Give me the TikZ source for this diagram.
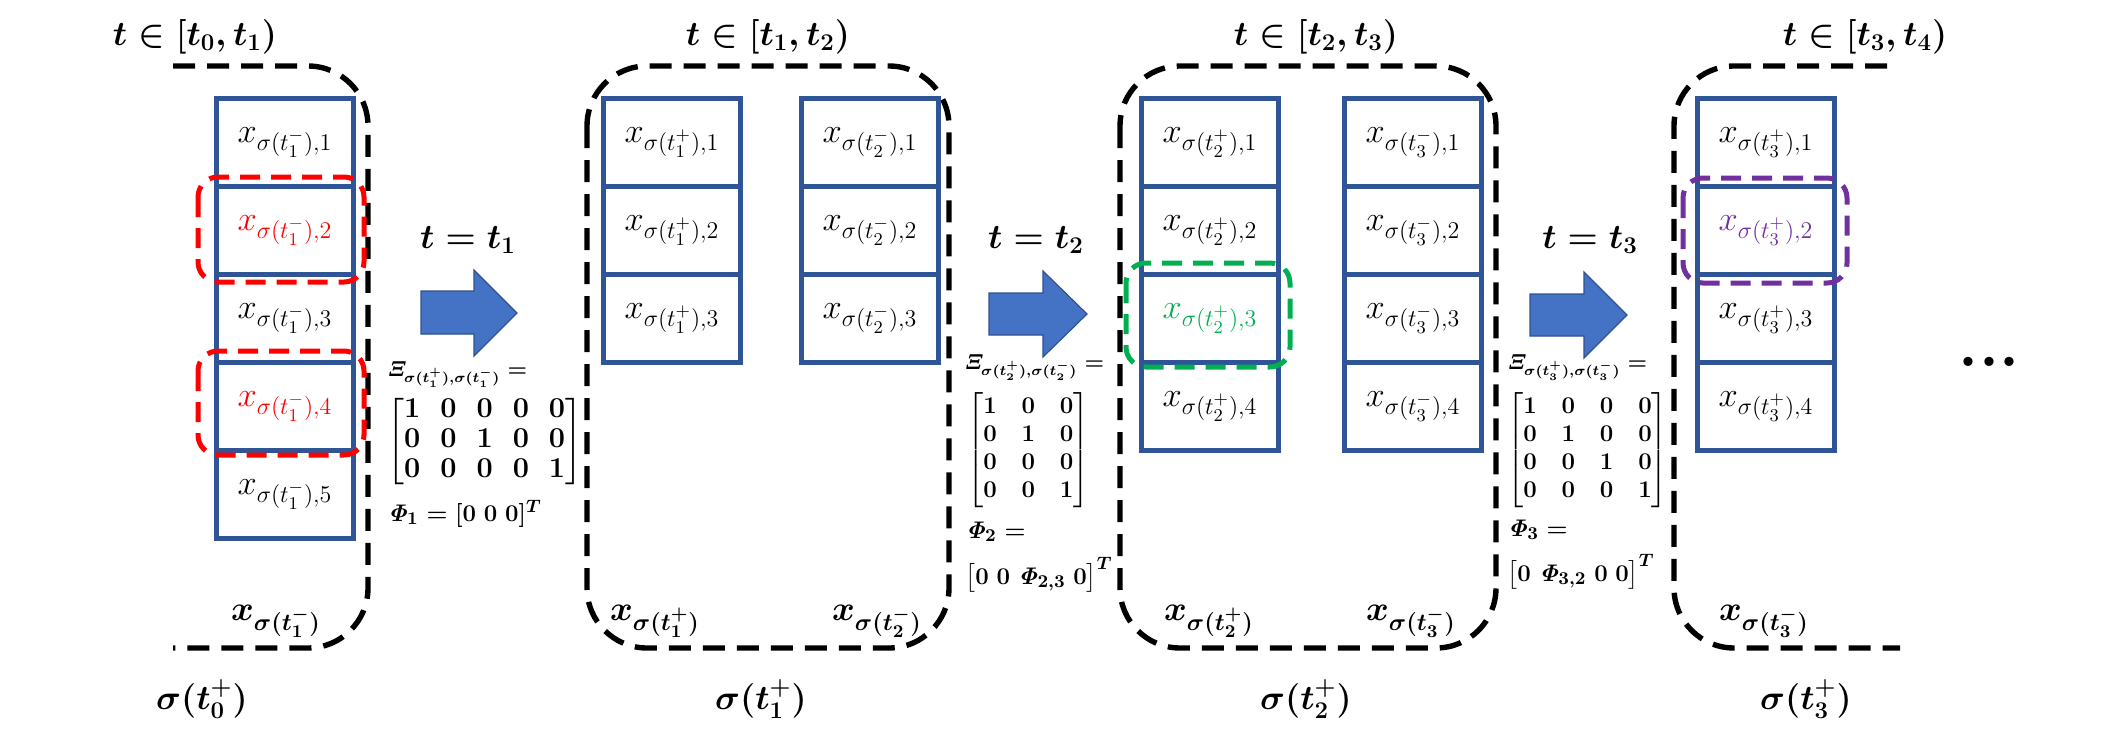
\documentclass[tikz,border=0pt]{standalone}
\usepackage{amsmath,bm}
\definecolor{boxblue}{HTML}{2F5597}
\definecolor{arrowblue}{HTML}{4472C4}
\definecolor{arrowedge}{HTML}{2F528F}
\definecolor{mygreen}{HTML}{00B050}
\definecolor{mypurple}{HTML}{7030A0}
\definecolor{myred}{HTML}{FF0000}
\tikzset{
  cell/.style={draw=boxblue, line width=2.5pt, minimum width=68.5pt, minimum height=44pt,
    inner sep=0pt, anchor=north west, font=\fontsize{18}{20}\selectfont},
  stage/.style={draw=black, line width=2.7pt, dash pattern=on 11pt off 6pt, rounded corners=30pt},
  hilite/.style={line width=2.5pt, dash pattern=on 10pt off 5.5pt, rounded corners=10pt},
  bigmath/.style={font=\fontsize{18}{20}\selectfont\boldmath, inner sep=0pt},
  blockarrow/.style={fill=arrowblue, draw=arrowedge, line width=0.6pt},
  xilabel/.style={font=\fontsize{10.5}{12}\selectfont\boldmath, inner sep=0pt, anchor=base west},
  philabel/.style={font=\fontsize{13}{15}\selectfont\boldmath, inner sep=0pt, anchor=base west},
  matA/.style={font=\fontsize{13.5}{15}\selectfont\boldmath\setlength{\arraycolsep}{5pt}, inner sep=0pt, anchor=north west},
  matB/.style={font=\fontsize{12.5}{14}\selectfont\boldmath\setlength{\arraycolsep}{6.2pt}, inner sep=0pt, anchor=north west},
}
\begin{document}
\begin{tikzpicture}[x=0.5pt,y=-0.5pt]
\useasboundingbox (0,0) rectangle (2122,734);

% ---------- stage boxes ----------
\draw[stage] (173,66) -- (368,66) -- (368,648) -- (173,648);
\draw[stage] (587,66) rectangle (949,648);
\draw[stage] (1120,66) rectangle (1496,648);
\draw[stage] (1887,66) -- (1674,66) -- (1674,648) -- (1900,648);

% ---------- columns ----------
\foreach \i/\c in {1/black,2/myred,3/black,4/myred,5/black}
  \node[cell,text=\c] (a\i) at (214,{96+88*(\i-1)}) {$x_{\sigma(t_1^-),\i}$};
\foreach \i in {1,2,3}
  \node[cell] (b\i) at (601,{96+88*(\i-1)}) {$x_{\sigma(t_1^+),\i}$};
\foreach \i in {1,2,3}
  \node[cell] (c\i) at (799,{96+88*(\i-1)}) {$x_{\sigma(t_2^-),\i}$};
\foreach \i/\c in {1/black,2/black,3/mygreen,4/black}
  \node[cell,text=\c] (d\i) at (1139,{96+88*(\i-1)}) {$x_{\sigma(t_2^+),\i}$};
\foreach \i in {1,2,3,4}
  \node[cell] (e\i) at (1342,{96+88*(\i-1)}) {$x_{\sigma(t_3^-),\i}$};
\foreach \i/\c in {1/black,2/mypurple,3/black,4/black}
  \node[cell,text=\c] (f\i) at (1695,{96+88*(\i-1)}) {$x_{\sigma(t_3^+),\i}$};

% ---------- highlights ----------
\draw[hilite,myred] (198,177) rectangle (364,282);
\draw[hilite,myred] (198,351) rectangle (364,455);
\draw[hilite,mygreen] (1126,263) rectangle (1290,367);
\draw[hilite,mypurple] (1683,178) rectangle (1847,283);

% ---------- titles ----------
\node[bigmath] (ti1) at (195,37) {$t \in [t_0, t_1)$};
\node[bigmath] (ti2) at (768,37) {$t \in [t_1, t_2)$};
\node[bigmath] (ti3) at (1316,37) {$t \in [t_2, t_3)$};
\node[bigmath] (ti4) at (1865,37) {$t \in [t_3, t_4)$};

% ---------- bottom labels ----------
\node[bigmath] (xb1) at (276,621) {$x_{\sigma(t_1^-)}$};
\node[bigmath] (xb2) at (655,621) {$x_{\sigma(t_1^+)}$};
\node[bigmath] (xb3) at (877,621) {$x_{\sigma(t_2^-)}$};
\node[bigmath] (xb4) at (1209,621) {$x_{\sigma(t_2^+)}$};
\node[bigmath] (xb5) at (1411,621) {$x_{\sigma(t_3^-)}$};
\node[bigmath] (xb6) at (1764,621) {$x_{\sigma(t_3^-)}$};

\node[bigmath] (s0) at (202,699) {$\sigma(t_0^+)$};
\node[bigmath] (s1) at (761,699) {$\sigma(t_1^+)$};
\node[bigmath] (s2) at (1306,699) {$\sigma(t_2^+)$};
\node[bigmath] (s3) at (1806,699) {$\sigma(t_3^+)$};

% ---------- transitions ----------
\node[bigmath] (tt1) at (468,240) {$t = t_1$};
\node[bigmath] (tt2) at (1036,240) {$t = t_2$};
\node[bigmath] (tt3) at (1590,240) {$t = t_3$};

\draw[blockarrow] (421,291) -- (474,291) -- (474,270) -- (517,313) -- (474,356) -- (474,334) -- (421,334) -- cycle;
\draw[blockarrow] (989,293) -- (1043,293) -- (1043,271) -- (1087,314) -- (1043,357) -- (1043,335) -- (989,335) -- cycle;
\draw[blockarrow] (1530,294) -- (1584,294) -- (1584,272) -- (1627,315) -- (1584,358) -- (1584,336) -- (1530,336) -- cycle;

% ---------- matrices ----------
\node[xilabel] (xi1) at (387,376) {$\mathit{\Xi}_{\sigma(t_1^+),\sigma(t_1^-)} =$};
\node[matA] (m1) at (387,396) {$\begin{bmatrix}1&0&0&0&0\\0&0&1&0&0\\0&0&0&0&1\end{bmatrix}$};
\node[philabel] (p1) at (387,521) {$\mathit{\Phi}_1 = [0\;0\;0]^T$};

\node[xilabel] (xi2) at (964,369) {$\mathit{\Xi}_{\sigma(t_2^+),\sigma(t_2^-)} =$};
\node[matB] (m2) at (967,392) {$\begin{bmatrix}1&0&0\\0&1&0\\0&0&0\\0&0&1\end{bmatrix}$};
\node[philabel] (p2a) at (965,538) {$\mathit{\Phi}_2 =$};
\node[philabel] (p2b) at (965,584) {$\bigl[0\;0\;\mathit{\Phi}_{2,3}\;0\bigr]^T$};

\node[xilabel] (xi3) at (1507,369) {$\mathit{\Xi}_{\sigma(t_3^+),\sigma(t_3^-)} =$};
\node[matB] (m3) at (1507,392) {$\begin{bmatrix}1&0&0&0\\0&1&0&0\\0&0&1&0\\0&0&0&1\end{bmatrix}$};
\node[philabel] (p3a) at (1507,536) {$\mathit{\Phi}_3 =$};
\node[philabel] (p3b) at (1507,581) {$\bigl[0\;\mathit{\Phi}_{3,2}\;0\;0\bigr]^T$};

% ---------- continuation ----------
\node[font=\fontsize{32}{34}\selectfont\bfseries, inner sep=0pt, anchor=base] (dots) at (1989,366) {...};
\end{tikzpicture}
\end{document}
